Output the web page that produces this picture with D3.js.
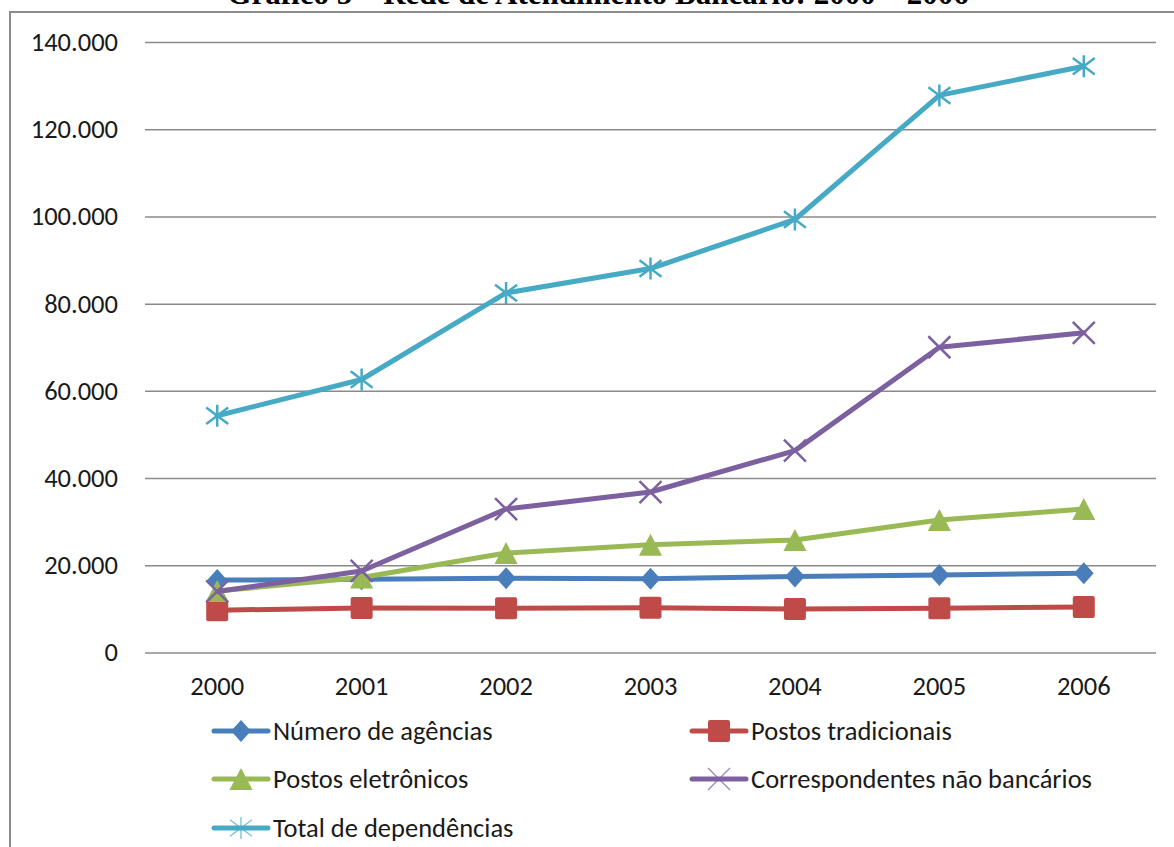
<!DOCTYPE html>
<html>
<head>
<meta charset="utf-8">
<script src="https://cdn.jsdelivr.net/npm/d3@7"></script>
<style>
  html, body { margin: 0; padding: 0; background: #fff; }
  svg { display: block; }
</style>
</head>
<body>
<svg id="chart" width="1174" height="847"></svg>
<script>
// Rede de atendimento bancário, 2000–2006
const years = ["2000", "2001", "2002", "2003", "2004", "2005", "2006"];
const agencias = [16600, 16800, 17050, 16900, 17400, 17800, 18200];
const postosTradicionais = [9700, 10200, 10170, 10250, 9950, 10150, 10450];
const postosEletronicos = [14100, 17200, 22800, 24700, 25800, 30400, 32900];
const correspondentes = [14000, 18700, 32900, 36800, 46300, 70000, 73300];
const totalDependencias = [54300, 62600, 82450, 88050, 99300, 127750, 134450];
const yTicks = [0, 20000, 40000, 60000, 80000, 100000, 120000, 140000];
const seriesNames = ["Número de agências", "Postos tradicionais", "Postos eletrônicos",
                     "Correspondentes não bancários", "Total de dependências"];
const titleText = "Gráfico 5 – Rede de Atendimento Bancário: 2000 – 2006";

const series = [
  { name: seriesNames[0], values: agencias, color: "#4A7EBB", marker: "diamond" },
  { name: seriesNames[1], values: postosTradicionais, color: "#BE4B48", marker: "square" },
  { name: seriesNames[2], values: postosEletronicos, color: "#98B954", marker: "triangle" },
  { name: seriesNames[3], values: correspondentes, color: "#7D60A0", marker: "x" },
  { name: seriesNames[4], values: totalDependencias, color: "#46AAC5", marker: "star" }
];

const svg = d3.select("#chart");
const font = "Carlito, Calibri, 'Liberation Sans', Arial, sans-serif";
const fontSize = 26.5;

// Chart frame (extends past the right and bottom edges)
svg.append("rect")
  .attr("x", 10).attr("y", 12)
  .attr("width", 1250).attr("height", 900)
  .attr("fill", "#fff")
  .attr("stroke", "#8c8c8c").attr("stroke-width", 2);

// Title, mostly clipped at the top
svg.append("text")
  .attr("x", 598).attr("y", 4)
  .attr("text-anchor", "middle")
  .attr("font-family", "'Liberation Serif', 'Times New Roman', serif")
  .attr("font-weight", "bold")
  .attr("font-size", 31)
  .attr("fill", "#000")
  .text(titleText);

const plot = { left: 145, right: 1156, top: 42, bottom: 652.5 };

const x = d3.scaleBand().domain(years).range([plot.left, plot.right]);
const y = d3.scaleLinear().domain([0, 140000]).range([plot.bottom, plot.top]);

const fmt = v => d3.format(",")(v).replace(/,/g, ".");

// Horizontal gridlines with value labels
svg.append("g")
  .attr("transform", `translate(${plot.left},0)`)
  .call(d3.axisLeft(y).tickValues(yTicks).tickSize(-(plot.right - plot.left)).tickFormat(fmt).tickPadding(27))
  .call(g => g.select(".domain").remove())
  .call(g => g.selectAll(".tick line").attr("stroke", "#8a8a8a").attr("stroke-width", 1.5))
  .call(g => g.selectAll(".tick text")
    .attr("font-family", font).attr("font-size", fontSize).attr("fill", "#1a1a1a"));

// Category axis labels
svg.append("g")
  .attr("transform", `translate(0,${plot.bottom})`)
  .call(d3.axisBottom(x).tickSize(0).tickPadding(24))
  .call(g => g.select(".domain").remove())
  .call(g => g.selectAll(".tick text")
    .attr("font-family", font).attr("font-size", fontSize).attr("fill", "#1a1a1a"));

function drawMarker(g, type, color, cx, cy, thin) {
  const s = 11;
  if (type === "diamond") {
    g.append("path")
      .attr("d", `M${cx},${cy - s} L${cx + s * 0.9},${cy} L${cx},${cy + s} L${cx - s * 0.9},${cy} Z`)
      .attr("fill", color);
  } else if (type === "square") {
    g.append("rect")
      .attr("x", cx - s).attr("y", cy - s).attr("width", 2 * s).attr("height", 2 * s)
      .attr("rx", 2).attr("fill", color);
  } else if (type === "triangle") {
    g.append("path")
      .attr("d", `M${cx},${cy - s} L${cx + s * 1.05},${cy + s} L${cx - s * 1.05},${cy + s} Z`)
      .attr("fill", color);
  } else if (type === "x") {
    g.append("path")
      .attr("d", `M${cx - s},${cy - s} L${cx + s},${cy + s} M${cx - s},${cy + s} L${cx + s},${cy - s}`)
      .attr("stroke", color).attr("stroke-width", thin ? 1.3 : 2.5).attr("fill", "none")
      .attr("stroke-opacity", thin ? 0.75 : 1);
  } else if (type === "star") {
    g.append("path")
      .attr("d", `M${cx},${cy - s} L${cx},${cy + s} M${cx - s},${cy - s * 0.75} L${cx + s},${cy + s * 0.75} M${cx - s},${cy + s * 0.75} L${cx + s},${cy - s * 0.75}`)
      .attr("stroke", color).attr("stroke-width", thin ? 1.3 : 2.5).attr("fill", "none")
      .attr("stroke-opacity", thin ? 0.75 : 1);
  }
}

const line = d3.line()
  .x((d, i) => x(years[i]) + x.bandwidth() / 2)
  .y(d => y(d));

const linesG = svg.append("g");
series.forEach(s => {
  const g = linesG.append("g");
  g.append("path")
    .datum(s.values)
    .attr("d", line)
    .attr("fill", "none")
    .attr("stroke", s.color)
    .attr("stroke-width", 5)
    .attr("stroke-linejoin", "round")
    .attr("stroke-linecap", "round");
  s.values.forEach((v, i) => {
    drawMarker(g, s.marker, s.color, x(years[i]) + x.bandwidth() / 2, y(v), false);
  });
});

// Legend
const legendPos = [
  { x: 214, y: 731 }, { x: 692, y: 731 },
  { x: 214, y: 779 }, { x: 692, y: 779 },
  { x: 214, y: 828 }
];
series.forEach((s, i) => {
  const p = legendPos[i];
  const g = svg.append("g");
  g.append("line")
    .attr("x1", p.x).attr("x2", p.x + 54)
    .attr("y1", p.y).attr("y2", p.y)
    .attr("stroke", s.color).attr("stroke-width", 5).attr("stroke-linecap", "round");
  drawMarker(g, s.marker, s.color, p.x + 27, p.y, true);
  g.append("text")
    .attr("x", p.x + 59).attr("y", p.y)
    .attr("dy", "0.35em")
    .attr("font-family", font).attr("font-size", fontSize).attr("fill", "#1a1a1a")
    .text(s.name);
});
</script>
</body>
</html>
